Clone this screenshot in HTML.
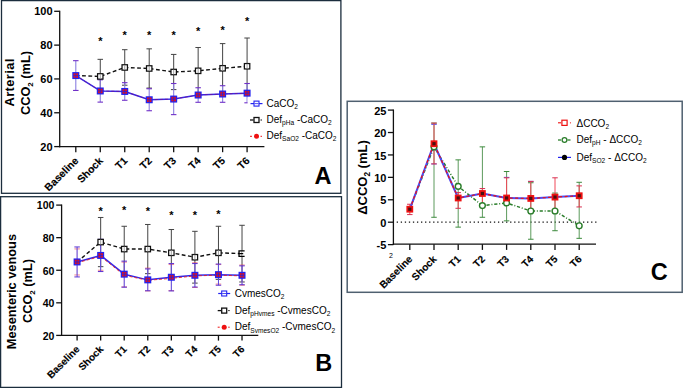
<!DOCTYPE html><html><head><meta charset="utf-8"><style>html,body{margin:0;padding:0;background:#fff;overflow:hidden;}svg{display:block;}text{font-family:"Liberation Sans",sans-serif;fill:#000;}</style></head><body>
<svg width="685" height="388" viewBox="0 0 685 388">
<rect width="685" height="388" fill="#fff"/>
<rect x="1.5" y="0.6" width="339.4" height="192.70000000000002" fill="none" stroke="#1b2d3d" stroke-width="1.3"/>
<line x1="59.70" y1="10.70" x2="59.70" y2="147.20" stroke="#111" stroke-width="1.3" />
<line x1="59.10" y1="146.60" x2="264.40" y2="146.60" stroke="#111" stroke-width="1.3" />
<line x1="54.20" y1="11.30" x2="59.70" y2="11.30" stroke="#111" stroke-width="1.3" />
<text x="52.60" y="15.20" font-size="11" font-weight="bold" text-anchor="end" >100</text>
<line x1="54.20" y1="45.12" x2="59.70" y2="45.12" stroke="#111" stroke-width="1.3" />
<text x="52.60" y="49.02" font-size="11" font-weight="bold" text-anchor="end" >80</text>
<line x1="54.20" y1="78.95" x2="59.70" y2="78.95" stroke="#111" stroke-width="1.3" />
<text x="52.60" y="82.85" font-size="11" font-weight="bold" text-anchor="end" >60</text>
<line x1="54.20" y1="112.77" x2="59.70" y2="112.77" stroke="#111" stroke-width="1.3" />
<text x="52.60" y="116.67" font-size="11" font-weight="bold" text-anchor="end" >40</text>
<line x1="54.20" y1="146.60" x2="59.70" y2="146.60" stroke="#111" stroke-width="1.3" />
<text x="52.60" y="150.50" font-size="11" font-weight="bold" text-anchor="end" >20</text>
<line x1="75.80" y1="146.60" x2="75.80" y2="152.20" stroke="#111" stroke-width="1.3" />
<line x1="100.27" y1="146.60" x2="100.27" y2="152.20" stroke="#111" stroke-width="1.3" />
<line x1="124.74" y1="146.60" x2="124.74" y2="152.20" stroke="#111" stroke-width="1.3" />
<line x1="149.21" y1="146.60" x2="149.21" y2="152.20" stroke="#111" stroke-width="1.3" />
<line x1="173.68" y1="146.60" x2="173.68" y2="152.20" stroke="#111" stroke-width="1.3" />
<line x1="198.15" y1="146.60" x2="198.15" y2="152.20" stroke="#111" stroke-width="1.3" />
<line x1="222.62" y1="146.60" x2="222.62" y2="152.20" stroke="#111" stroke-width="1.3" />
<line x1="247.09" y1="146.60" x2="247.09" y2="152.20" stroke="#111" stroke-width="1.3" />
<text transform="translate(76.50,158.90) rotate(-45)" font-size="10.4" font-weight="bold" text-anchor="end" dy="0.35em" stroke="#000" stroke-width="0.15">Baseline</text>
<text transform="translate(100.97,158.90) rotate(-45)" font-size="10.4" font-weight="bold" text-anchor="end" dy="0.35em" stroke="#000" stroke-width="0.15">Shock</text>
<text transform="translate(125.44,158.90) rotate(-45)" font-size="10.4" font-weight="bold" text-anchor="end" dy="0.35em" stroke="#000" stroke-width="0.15">T1</text>
<text transform="translate(149.91,158.90) rotate(-45)" font-size="10.4" font-weight="bold" text-anchor="end" dy="0.35em" stroke="#000" stroke-width="0.15">T2</text>
<text transform="translate(174.38,158.90) rotate(-45)" font-size="10.4" font-weight="bold" text-anchor="end" dy="0.35em" stroke="#000" stroke-width="0.15">T3</text>
<text transform="translate(198.85,158.90) rotate(-45)" font-size="10.4" font-weight="bold" text-anchor="end" dy="0.35em" stroke="#000" stroke-width="0.15">T4</text>
<text transform="translate(223.32,158.90) rotate(-45)" font-size="10.4" font-weight="bold" text-anchor="end" dy="0.35em" stroke="#000" stroke-width="0.15">T5</text>
<text transform="translate(247.79,158.90) rotate(-45)" font-size="10.4" font-weight="bold" text-anchor="end" dy="0.35em" stroke="#000" stroke-width="0.15">T6</text>
<text transform="translate(14.2,82.6) rotate(-90)" font-size="12.8" font-weight="bold" text-anchor="middle" textLength="47.8">Arterial</text>
<text transform="translate(29.7,83) rotate(-90)" font-size="12.8" font-weight="bold" text-anchor="middle">CCO<tspan font-size="8" dy="3">2</tspan><tspan dy="-3"> (mL)</tspan></text>
<g >
<line x1="100.27" y1="59.33" x2="100.27" y2="93.49" stroke="#444" stroke-width="1.0" />
<line x1="97.52" y1="59.33" x2="103.02" y2="59.33" stroke="#444" stroke-width="1.0" />
<line x1="97.52" y1="93.49" x2="103.02" y2="93.49" stroke="#444" stroke-width="1.0" />
</g>
<g >
<line x1="124.74" y1="49.69" x2="124.74" y2="85.21" stroke="#444" stroke-width="1.0" />
<line x1="121.99" y1="49.69" x2="127.49" y2="49.69" stroke="#444" stroke-width="1.0" />
<line x1="121.99" y1="85.21" x2="127.49" y2="85.21" stroke="#444" stroke-width="1.0" />
</g>
<g >
<line x1="149.21" y1="48.84" x2="149.21" y2="88.08" stroke="#444" stroke-width="1.0" />
<line x1="146.46" y1="48.84" x2="151.96" y2="48.84" stroke="#444" stroke-width="1.0" />
<line x1="146.46" y1="88.08" x2="151.96" y2="88.08" stroke="#444" stroke-width="1.0" />
</g>
<g >
<line x1="173.68" y1="54.42" x2="173.68" y2="89.60" stroke="#444" stroke-width="1.0" />
<line x1="170.93" y1="54.42" x2="176.43" y2="54.42" stroke="#444" stroke-width="1.0" />
<line x1="170.93" y1="89.60" x2="176.43" y2="89.60" stroke="#444" stroke-width="1.0" />
</g>
<g >
<line x1="198.15" y1="47.49" x2="198.15" y2="94.17" stroke="#444" stroke-width="1.0" />
<line x1="195.40" y1="47.49" x2="200.90" y2="47.49" stroke="#444" stroke-width="1.0" />
<line x1="195.40" y1="94.17" x2="200.90" y2="94.17" stroke="#444" stroke-width="1.0" />
</g>
<g >
<line x1="222.62" y1="43.60" x2="222.62" y2="92.99" stroke="#444" stroke-width="1.0" />
<line x1="219.87" y1="43.60" x2="225.37" y2="43.60" stroke="#444" stroke-width="1.0" />
<line x1="219.87" y1="92.99" x2="225.37" y2="92.99" stroke="#444" stroke-width="1.0" />
</g>
<g >
<line x1="247.09" y1="38.02" x2="247.09" y2="94.51" stroke="#444" stroke-width="1.0" />
<line x1="244.34" y1="38.02" x2="249.84" y2="38.02" stroke="#444" stroke-width="1.0" />
<line x1="244.34" y1="94.51" x2="249.84" y2="94.51" stroke="#444" stroke-width="1.0" />
</g>
<g >
<line x1="75.80" y1="60.68" x2="75.80" y2="90.45" stroke="#8a7ee0" stroke-width="1.1" />
<line x1="73.05" y1="60.68" x2="78.55" y2="60.68" stroke="#7030c8" stroke-width="1.1" />
<line x1="73.05" y1="90.45" x2="78.55" y2="90.45" stroke="#7030c8" stroke-width="1.1" />
</g>
<g >
<line x1="100.27" y1="79.79" x2="100.27" y2="102.12" stroke="#8a7ee0" stroke-width="1.1" />
<line x1="97.52" y1="79.79" x2="103.02" y2="79.79" stroke="#7030c8" stroke-width="1.1" />
<line x1="97.52" y1="102.12" x2="103.02" y2="102.12" stroke="#7030c8" stroke-width="1.1" />
</g>
<g >
<line x1="124.74" y1="82.67" x2="124.74" y2="100.26" stroke="#8a7ee0" stroke-width="1.1" />
<line x1="121.99" y1="82.67" x2="127.49" y2="82.67" stroke="#7030c8" stroke-width="1.1" />
<line x1="121.99" y1="100.26" x2="127.49" y2="100.26" stroke="#7030c8" stroke-width="1.1" />
</g>
<g >
<line x1="149.21" y1="88.76" x2="149.21" y2="110.74" stroke="#8a7ee0" stroke-width="1.1" />
<line x1="146.46" y1="88.76" x2="151.96" y2="88.76" stroke="#7030c8" stroke-width="1.1" />
<line x1="146.46" y1="110.74" x2="151.96" y2="110.74" stroke="#7030c8" stroke-width="1.1" />
</g>
<g >
<line x1="173.68" y1="83.51" x2="173.68" y2="114.63" stroke="#8a7ee0" stroke-width="1.1" />
<line x1="170.93" y1="83.51" x2="176.43" y2="83.51" stroke="#7030c8" stroke-width="1.1" />
<line x1="170.93" y1="114.63" x2="176.43" y2="114.63" stroke="#7030c8" stroke-width="1.1" />
</g>
<g >
<line x1="198.15" y1="87.74" x2="198.15" y2="102.29" stroke="#8a7ee0" stroke-width="1.1" />
<line x1="195.40" y1="87.74" x2="200.90" y2="87.74" stroke="#7030c8" stroke-width="1.1" />
<line x1="195.40" y1="102.29" x2="200.90" y2="102.29" stroke="#7030c8" stroke-width="1.1" />
</g>
<g >
<line x1="222.62" y1="85.71" x2="222.62" y2="102.29" stroke="#8a7ee0" stroke-width="1.1" />
<line x1="219.87" y1="85.71" x2="225.37" y2="85.71" stroke="#7030c8" stroke-width="1.1" />
<line x1="219.87" y1="102.29" x2="225.37" y2="102.29" stroke="#7030c8" stroke-width="1.1" />
</g>
<g >
<line x1="247.09" y1="83.51" x2="247.09" y2="102.80" stroke="#8a7ee0" stroke-width="1.1" />
<line x1="244.34" y1="83.51" x2="249.84" y2="83.51" stroke="#7030c8" stroke-width="1.1" />
<line x1="244.34" y1="102.80" x2="249.84" y2="102.80" stroke="#7030c8" stroke-width="1.1" />
</g>
<polyline points="75.80,75.57 100.27,76.41 124.74,67.45 149.21,68.46 173.68,72.01 198.15,70.83 222.62,68.29 247.09,66.26" fill="none" stroke="#111" stroke-width="1.4" stroke-dasharray="3.8 2.5"  stroke-linejoin="round"/>
<polyline points="75.80,75.57 100.27,90.96 124.74,91.46 149.21,99.75 173.68,99.07 198.15,95.02 222.62,94.00 247.09,93.15" fill="none" stroke="#3528e8" stroke-width="1.5"   stroke-linejoin="round"/>
<polyline points="75.80,75.57 100.27,90.96 124.74,91.46 149.21,99.75 173.68,99.07 198.15,95.02 222.62,94.00 247.09,93.15" fill="none" stroke="#8a0a70" stroke-width="0.8" stroke-dasharray="3 2" stroke-opacity="0.7" stroke-linejoin="round"/>
<rect x="97.57" y="73.71" width="5.4" height="5.4" fill="#fff" stroke="#111" stroke-width="1.25"/>
<line x1="100.27" y1="73.91" x2="100.27" y2="78.91" stroke="#999" stroke-width="0.9" />
<rect x="122.04" y="64.75" width="5.4" height="5.4" fill="#fff" stroke="#111" stroke-width="1.25"/>
<line x1="124.74" y1="64.95" x2="124.74" y2="69.95" stroke="#999" stroke-width="0.9" />
<rect x="146.51" y="65.76" width="5.4" height="5.4" fill="#fff" stroke="#111" stroke-width="1.25"/>
<line x1="149.21" y1="65.96" x2="149.21" y2="70.96" stroke="#999" stroke-width="0.9" />
<rect x="170.98" y="69.31" width="5.4" height="5.4" fill="#fff" stroke="#111" stroke-width="1.25"/>
<line x1="173.68" y1="69.51" x2="173.68" y2="74.51" stroke="#999" stroke-width="0.9" />
<rect x="195.45" y="68.13" width="5.4" height="5.4" fill="#fff" stroke="#111" stroke-width="1.25"/>
<line x1="198.15" y1="68.33" x2="198.15" y2="73.33" stroke="#999" stroke-width="0.9" />
<rect x="219.92" y="65.59" width="5.4" height="5.4" fill="#fff" stroke="#111" stroke-width="1.25"/>
<line x1="222.62" y1="65.79" x2="222.62" y2="70.79" stroke="#999" stroke-width="0.9" />
<rect x="244.39" y="63.56" width="5.4" height="5.4" fill="#fff" stroke="#111" stroke-width="1.25"/>
<line x1="247.09" y1="63.76" x2="247.09" y2="68.76" stroke="#999" stroke-width="0.9" />
<rect x="72.30" y="72.07" width="7" height="7" fill="#2323f0"/>
<rect x="73.60" y="73.37" width="4.4" height="4.4" fill="#ee1111"/>
<line x1="75.80" y1="73.37" x2="75.80" y2="77.77" stroke="#3020d0" stroke-width="0.9" />
<line x1="73.60" y1="75.57" x2="78.00" y2="75.57" stroke="#3020d0" stroke-width="0.9" />
<rect x="96.77" y="87.46" width="7" height="7" fill="#2323f0"/>
<rect x="98.07" y="88.76" width="4.4" height="4.4" fill="#ee1111"/>
<line x1="100.27" y1="88.76" x2="100.27" y2="93.16" stroke="#3020d0" stroke-width="0.9" />
<line x1="98.07" y1="90.96" x2="102.47" y2="90.96" stroke="#3020d0" stroke-width="0.9" />
<rect x="121.24" y="87.96" width="7" height="7" fill="#2323f0"/>
<rect x="122.54" y="89.26" width="4.4" height="4.4" fill="#ee1111"/>
<line x1="124.74" y1="89.26" x2="124.74" y2="93.66" stroke="#3020d0" stroke-width="0.9" />
<line x1="122.54" y1="91.46" x2="126.94" y2="91.46" stroke="#3020d0" stroke-width="0.9" />
<rect x="145.71" y="96.25" width="7" height="7" fill="#2323f0"/>
<rect x="147.01" y="97.55" width="4.4" height="4.4" fill="#ee1111"/>
<line x1="149.21" y1="97.55" x2="149.21" y2="101.95" stroke="#3020d0" stroke-width="0.9" />
<line x1="147.01" y1="99.75" x2="151.41" y2="99.75" stroke="#3020d0" stroke-width="0.9" />
<rect x="170.18" y="95.57" width="7" height="7" fill="#2323f0"/>
<rect x="171.48" y="96.87" width="4.4" height="4.4" fill="#ee1111"/>
<line x1="173.68" y1="96.87" x2="173.68" y2="101.27" stroke="#3020d0" stroke-width="0.9" />
<line x1="171.48" y1="99.07" x2="175.88" y2="99.07" stroke="#3020d0" stroke-width="0.9" />
<rect x="194.65" y="91.52" width="7" height="7" fill="#2323f0"/>
<rect x="195.95" y="92.82" width="4.4" height="4.4" fill="#ee1111"/>
<line x1="198.15" y1="92.82" x2="198.15" y2="97.22" stroke="#3020d0" stroke-width="0.9" />
<line x1="195.95" y1="95.02" x2="200.35" y2="95.02" stroke="#3020d0" stroke-width="0.9" />
<rect x="219.12" y="90.50" width="7" height="7" fill="#2323f0"/>
<rect x="220.42" y="91.80" width="4.4" height="4.4" fill="#ee1111"/>
<line x1="222.62" y1="91.80" x2="222.62" y2="96.20" stroke="#3020d0" stroke-width="0.9" />
<line x1="220.42" y1="94.00" x2="224.82" y2="94.00" stroke="#3020d0" stroke-width="0.9" />
<rect x="243.59" y="89.65" width="7" height="7" fill="#2323f0"/>
<rect x="244.89" y="90.95" width="4.4" height="4.4" fill="#ee1111"/>
<line x1="247.09" y1="90.95" x2="247.09" y2="95.35" stroke="#3020d0" stroke-width="0.9" />
<line x1="244.89" y1="93.15" x2="249.29" y2="93.15" stroke="#3020d0" stroke-width="0.9" />
<text x="100.27" y="45.20" font-size="11" font-weight="bold" text-anchor="middle">*</text>
<text x="124.74" y="39.10" font-size="11" font-weight="bold" text-anchor="middle">*</text>
<text x="149.21" y="39.10" font-size="11" font-weight="bold" text-anchor="middle">*</text>
<text x="173.68" y="39.20" font-size="11" font-weight="bold" text-anchor="middle">*</text>
<text x="198.15" y="35.30" font-size="11" font-weight="bold" text-anchor="middle">*</text>
<text x="222.62" y="34.00" font-size="11" font-weight="bold" text-anchor="middle">*</text>
<text x="247.09" y="25.40" font-size="11" font-weight="bold" text-anchor="middle">*</text>
<rect x="247.6" y="97.5" width="91" height="47" fill="#fff"/>
<line x1="250.50" y1="103.60" x2="262.50" y2="103.60" stroke="#2323f0" stroke-width="1.2" />
<rect x="254.00" y="101.10" width="5" height="5" fill="#fff" stroke="#2323f0" stroke-width="1.1"/>
<line x1="254.50" y1="103.60" x2="258.50" y2="103.60" stroke="#2323f0" stroke-width="0.8" />
<text x="266.50" y="106.60" font-size="10" font-weight="normal" fill="#111">CaCO<tspan font-size="6.6" dy="2.2">2</tspan></text>
<line x1="250.00" y1="120.00" x2="253.50" y2="120.00" stroke="#111" stroke-width="1.3" />
<rect x="254.00" y="117.50" width="5" height="5" fill="#fff" stroke="#111" stroke-width="1.3"/>
<line x1="260.50" y1="120.00" x2="262.00" y2="120.00" stroke="#111" stroke-width="1" />
<text x="266.50" y="122.90" font-size="10" font-weight="normal" fill="#111">Def<tspan font-size="6.6" dy="2.2">pHa</tspan><tspan dy="-2.2"> -CaCO</tspan><tspan font-size="6.6" dy="2.2">2</tspan></text>
<line x1="250.00" y1="136.30" x2="252.00" y2="136.30" stroke="#ee1111" stroke-width="1" />
<circle cx="256.50" cy="136.30" r="2.5" fill="#ee1111"/>
<line x1="260.50" y1="136.30" x2="262.00" y2="136.30" stroke="#ee1111" stroke-width="1" />
<text x="266.50" y="139.20" font-size="10" font-weight="normal" fill="#111">Def<tspan font-size="6.6" dy="2.2">SaO2</tspan><tspan dy="-2.2"> -CaCO</tspan><tspan font-size="6.6" dy="2.2">2</tspan></text>
<text x="314.60" y="183.70" font-size="23.5" font-weight="bold" text-anchor="start" >A</text>
<rect x="0.6" y="196.7" width="340.9" height="190.7" fill="none" stroke="#1b2d3d" stroke-width="1.3"/>
<line x1="61.60" y1="204.50" x2="61.60" y2="336.00" stroke="#111" stroke-width="1.3" />
<line x1="61.00" y1="335.40" x2="258.30" y2="335.40" stroke="#111" stroke-width="1.3" />
<line x1="56.20" y1="205.10" x2="61.60" y2="205.10" stroke="#111" stroke-width="1.3" />
<text x="54.40" y="209.40" font-size="10.5" font-weight="bold" text-anchor="end" >100</text>
<line x1="56.20" y1="237.67" x2="61.60" y2="237.67" stroke="#111" stroke-width="1.3" />
<text x="54.40" y="241.97" font-size="10.5" font-weight="bold" text-anchor="end" >80</text>
<line x1="56.20" y1="270.25" x2="61.60" y2="270.25" stroke="#111" stroke-width="1.3" />
<text x="54.40" y="274.55" font-size="10.5" font-weight="bold" text-anchor="end" >60</text>
<line x1="56.20" y1="302.82" x2="61.60" y2="302.82" stroke="#111" stroke-width="1.3" />
<text x="54.40" y="307.12" font-size="10.5" font-weight="bold" text-anchor="end" >40</text>
<line x1="56.20" y1="335.40" x2="61.60" y2="335.40" stroke="#111" stroke-width="1.3" />
<text x="54.40" y="339.70" font-size="10.5" font-weight="bold" text-anchor="end" >20</text>
<line x1="77.10" y1="335.40" x2="77.10" y2="340.60" stroke="#111" stroke-width="1.3" />
<line x1="100.66" y1="335.40" x2="100.66" y2="340.60" stroke="#111" stroke-width="1.3" />
<line x1="124.22" y1="335.40" x2="124.22" y2="340.60" stroke="#111" stroke-width="1.3" />
<line x1="147.78" y1="335.40" x2="147.78" y2="340.60" stroke="#111" stroke-width="1.3" />
<line x1="171.34" y1="335.40" x2="171.34" y2="340.60" stroke="#111" stroke-width="1.3" />
<line x1="194.90" y1="335.40" x2="194.90" y2="340.60" stroke="#111" stroke-width="1.3" />
<line x1="218.46" y1="335.40" x2="218.46" y2="340.60" stroke="#111" stroke-width="1.3" />
<line x1="242.02" y1="335.40" x2="242.02" y2="340.60" stroke="#111" stroke-width="1.3" />
<text transform="translate(77.80,347.40) rotate(-45)" font-size="10.0" font-weight="bold" text-anchor="end" dy="0.35em" stroke="#000" stroke-width="0.15">Baseline</text>
<text transform="translate(101.36,347.40) rotate(-45)" font-size="10.0" font-weight="bold" text-anchor="end" dy="0.35em" stroke="#000" stroke-width="0.15">Shock</text>
<text transform="translate(124.92,347.40) rotate(-45)" font-size="10.0" font-weight="bold" text-anchor="end" dy="0.35em" stroke="#000" stroke-width="0.15">T1</text>
<text transform="translate(148.48,347.40) rotate(-45)" font-size="10.0" font-weight="bold" text-anchor="end" dy="0.35em" stroke="#000" stroke-width="0.15">T2</text>
<text transform="translate(172.04,347.40) rotate(-45)" font-size="10.0" font-weight="bold" text-anchor="end" dy="0.35em" stroke="#000" stroke-width="0.15">T3</text>
<text transform="translate(195.60,347.40) rotate(-45)" font-size="10.0" font-weight="bold" text-anchor="end" dy="0.35em" stroke="#000" stroke-width="0.15">T4</text>
<text transform="translate(219.16,347.40) rotate(-45)" font-size="10.0" font-weight="bold" text-anchor="end" dy="0.35em" stroke="#000" stroke-width="0.15">T5</text>
<text transform="translate(242.72,347.40) rotate(-45)" font-size="10.0" font-weight="bold" text-anchor="end" dy="0.35em" stroke="#000" stroke-width="0.15">T6</text>
<text transform="translate(16.0,291.6) rotate(-90)" font-size="12.8" font-weight="bold" text-anchor="middle">Mesenteric venous</text>
<text transform="translate(32.2,291) rotate(-90)" font-size="12.8" font-weight="bold" text-anchor="middle">CCO<tspan font-size="8" dy="3">2</tspan><tspan dy="-3"> (mL)</tspan></text>
<g >
<line x1="100.66" y1="217.47" x2="100.66" y2="266.66" stroke="#444" stroke-width="1.0" />
<line x1="97.91" y1="217.47" x2="103.41" y2="217.47" stroke="#444" stroke-width="1.0" />
<line x1="97.91" y1="266.66" x2="103.41" y2="266.66" stroke="#444" stroke-width="1.0" />
</g>
<g >
<line x1="124.22" y1="226.27" x2="124.22" y2="271.88" stroke="#444" stroke-width="1.0" />
<line x1="121.47" y1="226.27" x2="126.97" y2="226.27" stroke="#444" stroke-width="1.0" />
<line x1="121.47" y1="271.88" x2="126.97" y2="271.88" stroke="#444" stroke-width="1.0" />
</g>
<g >
<line x1="147.78" y1="224.48" x2="147.78" y2="273.67" stroke="#444" stroke-width="1.0" />
<line x1="145.03" y1="224.48" x2="150.53" y2="224.48" stroke="#444" stroke-width="1.0" />
<line x1="145.03" y1="273.67" x2="150.53" y2="273.67" stroke="#444" stroke-width="1.0" />
</g>
<g >
<line x1="171.34" y1="229.53" x2="171.34" y2="276.11" stroke="#444" stroke-width="1.0" />
<line x1="168.59" y1="229.53" x2="174.09" y2="229.53" stroke="#444" stroke-width="1.0" />
<line x1="168.59" y1="276.11" x2="174.09" y2="276.11" stroke="#444" stroke-width="1.0" />
</g>
<g >
<line x1="194.90" y1="231.32" x2="194.90" y2="283.12" stroke="#444" stroke-width="1.0" />
<line x1="192.15" y1="231.32" x2="197.65" y2="231.32" stroke="#444" stroke-width="1.0" />
<line x1="192.15" y1="283.12" x2="197.65" y2="283.12" stroke="#444" stroke-width="1.0" />
</g>
<g >
<line x1="218.46" y1="226.27" x2="218.46" y2="279.37" stroke="#444" stroke-width="1.0" />
<line x1="215.71" y1="226.27" x2="221.21" y2="226.27" stroke="#444" stroke-width="1.0" />
<line x1="215.71" y1="279.37" x2="221.21" y2="279.37" stroke="#444" stroke-width="1.0" />
</g>
<g >
<line x1="242.02" y1="225.29" x2="242.02" y2="281.98" stroke="#444" stroke-width="1.0" />
<line x1="239.27" y1="225.29" x2="244.77" y2="225.29" stroke="#444" stroke-width="1.0" />
<line x1="239.27" y1="281.98" x2="244.77" y2="281.98" stroke="#444" stroke-width="1.0" />
</g>
<g >
<line x1="77.10" y1="248.91" x2="77.10" y2="274.97" stroke="#f0a0b0" stroke-width="0.6" />
<line x1="74.35" y1="248.91" x2="79.85" y2="248.91" stroke="#e83040" stroke-width="0.6" />
<line x1="74.35" y1="274.97" x2="79.85" y2="274.97" stroke="#e83040" stroke-width="0.6" />
</g>
<g >
<line x1="100.66" y1="240.93" x2="100.66" y2="270.25" stroke="#f0a0b0" stroke-width="0.6" />
<line x1="97.91" y1="240.93" x2="103.41" y2="240.93" stroke="#e83040" stroke-width="0.6" />
<line x1="97.91" y1="270.25" x2="103.41" y2="270.25" stroke="#e83040" stroke-width="0.6" />
</g>
<g >
<line x1="124.22" y1="262.10" x2="124.22" y2="286.86" stroke="#f0a0b0" stroke-width="0.6" />
<line x1="121.47" y1="262.10" x2="126.97" y2="262.10" stroke="#e83040" stroke-width="0.6" />
<line x1="121.47" y1="286.86" x2="126.97" y2="286.86" stroke="#e83040" stroke-width="0.6" />
</g>
<g >
<line x1="147.78" y1="268.13" x2="147.78" y2="290.93" stroke="#f0a0b0" stroke-width="0.6" />
<line x1="145.03" y1="268.13" x2="150.53" y2="268.13" stroke="#e83040" stroke-width="0.6" />
<line x1="145.03" y1="290.93" x2="150.53" y2="290.93" stroke="#e83040" stroke-width="0.6" />
</g>
<g >
<line x1="171.34" y1="264.55" x2="171.34" y2="290.61" stroke="#f0a0b0" stroke-width="0.6" />
<line x1="168.59" y1="264.55" x2="174.09" y2="264.55" stroke="#e83040" stroke-width="0.6" />
<line x1="168.59" y1="290.61" x2="174.09" y2="290.61" stroke="#e83040" stroke-width="0.6" />
</g>
<g >
<line x1="194.90" y1="262.76" x2="194.90" y2="287.51" stroke="#f0a0b0" stroke-width="0.6" />
<line x1="192.15" y1="262.76" x2="197.65" y2="262.76" stroke="#e83040" stroke-width="0.6" />
<line x1="192.15" y1="287.51" x2="197.65" y2="287.51" stroke="#e83040" stroke-width="0.6" />
</g>
<g >
<line x1="218.46" y1="264.55" x2="218.46" y2="284.09" stroke="#f0a0b0" stroke-width="0.6" />
<line x1="215.71" y1="264.55" x2="221.21" y2="264.55" stroke="#e83040" stroke-width="0.6" />
<line x1="215.71" y1="284.09" x2="221.21" y2="284.09" stroke="#e83040" stroke-width="0.6" />
</g>
<g >
<line x1="242.02" y1="265.04" x2="242.02" y2="285.23" stroke="#f0a0b0" stroke-width="0.6" />
<line x1="239.27" y1="265.04" x2="244.77" y2="265.04" stroke="#e83040" stroke-width="0.6" />
<line x1="239.27" y1="285.23" x2="244.77" y2="285.23" stroke="#e83040" stroke-width="0.6" />
</g>
<g >
<line x1="77.10" y1="246.96" x2="77.10" y2="276.93" stroke="#5a4ae0" stroke-width="1.0" />
<line x1="74.35" y1="246.96" x2="79.85" y2="246.96" stroke="#5a30d0" stroke-width="1.0" />
<line x1="74.35" y1="276.93" x2="79.85" y2="276.93" stroke="#5a30d0" stroke-width="1.0" />
</g>
<g >
<line x1="100.66" y1="239.30" x2="100.66" y2="271.55" stroke="#5a4ae0" stroke-width="1.0" />
<line x1="97.91" y1="239.30" x2="103.41" y2="239.30" stroke="#5a30d0" stroke-width="1.0" />
<line x1="97.91" y1="271.55" x2="103.41" y2="271.55" stroke="#5a30d0" stroke-width="1.0" />
</g>
<g >
<line x1="124.22" y1="261.13" x2="124.22" y2="287.19" stroke="#5a4ae0" stroke-width="1.0" />
<line x1="121.47" y1="261.13" x2="126.97" y2="261.13" stroke="#5a30d0" stroke-width="1.0" />
<line x1="121.47" y1="287.19" x2="126.97" y2="287.19" stroke="#5a30d0" stroke-width="1.0" />
</g>
<g >
<line x1="147.78" y1="268.94" x2="147.78" y2="290.77" stroke="#5a4ae0" stroke-width="1.0" />
<line x1="145.03" y1="268.94" x2="150.53" y2="268.94" stroke="#5a30d0" stroke-width="1.0" />
<line x1="145.03" y1="290.77" x2="150.53" y2="290.77" stroke="#5a30d0" stroke-width="1.0" />
</g>
<g >
<line x1="171.34" y1="263.57" x2="171.34" y2="290.93" stroke="#5a4ae0" stroke-width="1.0" />
<line x1="168.59" y1="263.57" x2="174.09" y2="263.57" stroke="#5a30d0" stroke-width="1.0" />
<line x1="168.59" y1="290.93" x2="174.09" y2="290.93" stroke="#5a30d0" stroke-width="1.0" />
</g>
<g >
<line x1="194.90" y1="263.57" x2="194.90" y2="287.02" stroke="#5a4ae0" stroke-width="1.0" />
<line x1="192.15" y1="263.57" x2="197.65" y2="263.57" stroke="#5a30d0" stroke-width="1.0" />
<line x1="192.15" y1="287.02" x2="197.65" y2="287.02" stroke="#5a30d0" stroke-width="1.0" />
</g>
<g >
<line x1="218.46" y1="264.06" x2="218.46" y2="285.23" stroke="#5a4ae0" stroke-width="1.0" />
<line x1="215.71" y1="264.06" x2="221.21" y2="264.06" stroke="#5a30d0" stroke-width="1.0" />
<line x1="215.71" y1="285.23" x2="221.21" y2="285.23" stroke="#5a30d0" stroke-width="1.0" />
</g>
<g >
<line x1="242.02" y1="265.85" x2="242.02" y2="284.74" stroke="#5a4ae0" stroke-width="1.0" />
<line x1="239.27" y1="265.85" x2="244.77" y2="265.85" stroke="#5a30d0" stroke-width="1.0" />
<line x1="239.27" y1="284.74" x2="244.77" y2="284.74" stroke="#5a30d0" stroke-width="1.0" />
</g>
<polyline points="77.10,261.94 100.66,242.07 124.22,249.07 147.78,249.07 171.34,252.82 194.90,257.22 218.46,252.82 242.02,253.63" fill="none" stroke="#111" stroke-width="1.4" stroke-dasharray="3.8 2.5"  stroke-linejoin="round"/>
<polyline points="77.10,261.94 100.66,255.43 124.22,274.16 147.78,279.86 171.34,277.25 194.90,275.30 218.46,274.65 242.02,275.30" fill="none" stroke="#3528e8" stroke-width="1.5"   stroke-linejoin="round"/>
<polyline points="77.10,262.74 100.66,256.39 124.22,275.28 147.78,280.33 171.34,278.38 194.90,275.93 218.46,275.12 242.02,275.93" fill="none" stroke="#ee1111" stroke-width="1.0" stroke-dasharray="3 2" stroke-opacity="0.8" stroke-linejoin="round"/>
<rect x="97.96" y="239.37" width="5.4" height="5.4" fill="#fff" stroke="#111" stroke-width="1.25"/>
<line x1="100.66" y1="239.57" x2="100.66" y2="244.57" stroke="#999" stroke-width="0.9" />
<rect x="121.52" y="246.37" width="5.4" height="5.4" fill="#fff" stroke="#111" stroke-width="1.25"/>
<line x1="124.22" y1="246.57" x2="124.22" y2="251.57" stroke="#999" stroke-width="0.9" />
<rect x="145.08" y="246.37" width="5.4" height="5.4" fill="#fff" stroke="#111" stroke-width="1.25"/>
<line x1="147.78" y1="246.57" x2="147.78" y2="251.57" stroke="#999" stroke-width="0.9" />
<rect x="168.64" y="250.12" width="5.4" height="5.4" fill="#fff" stroke="#111" stroke-width="1.25"/>
<line x1="171.34" y1="250.32" x2="171.34" y2="255.32" stroke="#999" stroke-width="0.9" />
<rect x="192.20" y="254.52" width="5.4" height="5.4" fill="#fff" stroke="#111" stroke-width="1.25"/>
<line x1="194.90" y1="254.72" x2="194.90" y2="259.72" stroke="#999" stroke-width="0.9" />
<rect x="215.76" y="250.12" width="5.4" height="5.4" fill="#fff" stroke="#111" stroke-width="1.25"/>
<line x1="218.46" y1="250.32" x2="218.46" y2="255.32" stroke="#999" stroke-width="0.9" />
<rect x="239.02" y="250.93" width="5.4" height="5.4" fill="#fff"/>
<line x1="241.72" y1="251.13" x2="241.72" y2="256.13" stroke="#999" stroke-width="0.9" />
<path d="M244.62,250.93 H239.02 V256.33 H244.62 M239.02,253.63 H243.22" fill="none" stroke="#000" stroke-width="1.3"/>
<rect x="73.60" y="258.44" width="7" height="7" fill="#2323f0"/>
<rect x="74.90" y="259.74" width="4.4" height="4.4" fill="#ee1111"/>
<line x1="77.10" y1="259.74" x2="77.10" y2="264.14" stroke="#3020d0" stroke-width="0.9" />
<line x1="74.90" y1="261.94" x2="79.30" y2="261.94" stroke="#3020d0" stroke-width="0.9" />
<rect x="97.16" y="251.93" width="7" height="7" fill="#2323f0"/>
<rect x="98.46" y="253.23" width="4.4" height="4.4" fill="#ee1111"/>
<line x1="100.66" y1="253.23" x2="100.66" y2="257.63" stroke="#3020d0" stroke-width="0.9" />
<line x1="98.46" y1="255.43" x2="102.86" y2="255.43" stroke="#3020d0" stroke-width="0.9" />
<rect x="120.72" y="270.66" width="7" height="7" fill="#2323f0"/>
<rect x="122.02" y="271.96" width="4.4" height="4.4" fill="#ee1111"/>
<line x1="124.22" y1="271.96" x2="124.22" y2="276.36" stroke="#3020d0" stroke-width="0.9" />
<line x1="122.02" y1="274.16" x2="126.42" y2="274.16" stroke="#3020d0" stroke-width="0.9" />
<rect x="144.28" y="276.36" width="7" height="7" fill="#2323f0"/>
<rect x="145.58" y="277.66" width="4.4" height="4.4" fill="#ee1111"/>
<line x1="147.78" y1="277.66" x2="147.78" y2="282.06" stroke="#3020d0" stroke-width="0.9" />
<line x1="145.58" y1="279.86" x2="149.98" y2="279.86" stroke="#3020d0" stroke-width="0.9" />
<rect x="167.84" y="273.75" width="7" height="7" fill="#2323f0"/>
<rect x="169.14" y="275.05" width="4.4" height="4.4" fill="#ee1111"/>
<line x1="171.34" y1="275.05" x2="171.34" y2="279.45" stroke="#3020d0" stroke-width="0.9" />
<line x1="169.14" y1="277.25" x2="173.54" y2="277.25" stroke="#3020d0" stroke-width="0.9" />
<rect x="191.40" y="271.80" width="7" height="7" fill="#2323f0"/>
<rect x="192.70" y="273.10" width="4.4" height="4.4" fill="#ee1111"/>
<line x1="194.90" y1="273.10" x2="194.90" y2="277.50" stroke="#3020d0" stroke-width="0.9" />
<line x1="192.70" y1="275.30" x2="197.10" y2="275.30" stroke="#3020d0" stroke-width="0.9" />
<rect x="214.96" y="271.15" width="7" height="7" fill="#2323f0"/>
<rect x="216.26" y="272.45" width="4.4" height="4.4" fill="#ee1111"/>
<line x1="218.46" y1="272.45" x2="218.46" y2="276.85" stroke="#3020d0" stroke-width="0.9" />
<line x1="216.26" y1="274.65" x2="220.66" y2="274.65" stroke="#3020d0" stroke-width="0.9" />
<rect x="238.52" y="271.80" width="7" height="7" fill="#2323f0"/>
<rect x="239.82" y="273.10" width="4.4" height="4.4" fill="#ee1111"/>
<line x1="242.02" y1="273.10" x2="242.02" y2="277.50" stroke="#3020d0" stroke-width="0.9" />
<line x1="239.82" y1="275.30" x2="244.22" y2="275.30" stroke="#3020d0" stroke-width="0.9" />
<text x="100.66" y="214.80" font-size="11" font-weight="bold" text-anchor="middle">*</text>
<text x="124.22" y="214.20" font-size="11" font-weight="bold" text-anchor="middle">*</text>
<text x="147.78" y="214.80" font-size="11" font-weight="bold" text-anchor="middle">*</text>
<text x="171.34" y="218.90" font-size="11" font-weight="bold" text-anchor="middle">*</text>
<text x="194.90" y="219.30" font-size="11" font-weight="bold" text-anchor="middle">*</text>
<text x="218.46" y="217.90" font-size="11" font-weight="bold" text-anchor="middle">*</text>
<line x1="218.20" y1="293.50" x2="230.20" y2="293.50" stroke="#2323f0" stroke-width="1.2" />
<rect x="221.70" y="291.00" width="5" height="5" fill="#fff" stroke="#2323f0" stroke-width="1.1"/>
<line x1="222.20" y1="293.50" x2="226.20" y2="293.50" stroke="#2323f0" stroke-width="0.8" />
<text x="234.70" y="296.90" font-size="10" font-weight="normal" fill="#111">CvmesCO<tspan font-size="6.6" dy="2.2">2</tspan></text>
<line x1="217.70" y1="310.60" x2="221.20" y2="310.60" stroke="#111" stroke-width="1.3" />
<rect x="221.70" y="308.10" width="5" height="5" fill="#fff" stroke="#111" stroke-width="1.3"/>
<line x1="228.20" y1="310.60" x2="229.70" y2="310.60" stroke="#111" stroke-width="1" />
<text x="234.70" y="313.70" font-size="10" font-weight="normal" fill="#111">Def<tspan font-size="6.6" dy="2.2">pHvmes</tspan><tspan dy="-2.2"> -CvmesCO</tspan><tspan font-size="6.6" dy="2.2">2</tspan></text>
<line x1="217.70" y1="327.20" x2="219.70" y2="327.20" stroke="#ee1111" stroke-width="1" />
<circle cx="224.20" cy="327.20" r="2.5" fill="#ee1111"/>
<line x1="228.20" y1="327.20" x2="229.70" y2="327.20" stroke="#ee1111" stroke-width="1" />
<text x="234.70" y="330.40" font-size="10" font-weight="normal" fill="#111">Def<tspan font-size="6.6" dy="2.2">SvmesO2</tspan><tspan dy="-2.2"> -CvmesCO</tspan><tspan font-size="6.6" dy="2.2">2</tspan></text>
<text x="315.20" y="370.70" font-size="23.5" font-weight="bold" text-anchor="start" >B</text>
<rect x="347.2" y="101.3" width="335.00000000000006" height="191.0" fill="none" stroke="#4f6070" stroke-width="1.5"/>
<line x1="393.40" y1="109.50" x2="393.40" y2="244.80" stroke="#111" stroke-width="1.3" />
<line x1="392.80" y1="244.20" x2="596.00" y2="244.20" stroke="#111" stroke-width="1.3" />
<line x1="387.90" y1="110.10" x2="393.40" y2="110.10" stroke="#111" stroke-width="1.3" />
<text x="386.40" y="114.70" font-size="11" font-weight="bold" text-anchor="end" >25</text>
<line x1="387.90" y1="132.52" x2="393.40" y2="132.52" stroke="#111" stroke-width="1.3" />
<text x="386.40" y="137.12" font-size="11" font-weight="bold" text-anchor="end" >20</text>
<line x1="387.90" y1="154.94" x2="393.40" y2="154.94" stroke="#111" stroke-width="1.3" />
<text x="386.40" y="159.54" font-size="11" font-weight="bold" text-anchor="end" >15</text>
<line x1="387.90" y1="177.36" x2="393.40" y2="177.36" stroke="#111" stroke-width="1.3" />
<text x="386.40" y="181.96" font-size="11" font-weight="bold" text-anchor="end" >10</text>
<line x1="387.90" y1="199.78" x2="393.40" y2="199.78" stroke="#111" stroke-width="1.3" />
<text x="386.40" y="204.38" font-size="11" font-weight="bold" text-anchor="end" >5</text>
<line x1="387.90" y1="222.20" x2="393.40" y2="222.20" stroke="#111" stroke-width="1.3" />
<text x="386.40" y="226.80" font-size="11" font-weight="bold" text-anchor="end" >0</text>
<line x1="387.90" y1="244.62" x2="393.40" y2="244.62" stroke="#111" stroke-width="1.3" />
<text x="386.40" y="249.22" font-size="11" font-weight="bold" text-anchor="end" >-5</text>
<line x1="409.80" y1="244.20" x2="409.80" y2="249.90" stroke="#111" stroke-width="1.3" />
<line x1="434.00" y1="244.20" x2="434.00" y2="249.90" stroke="#111" stroke-width="1.3" />
<line x1="458.20" y1="244.20" x2="458.20" y2="249.90" stroke="#111" stroke-width="1.3" />
<line x1="482.40" y1="244.20" x2="482.40" y2="249.90" stroke="#111" stroke-width="1.3" />
<line x1="506.60" y1="244.20" x2="506.60" y2="249.90" stroke="#111" stroke-width="1.3" />
<line x1="530.80" y1="244.20" x2="530.80" y2="249.90" stroke="#111" stroke-width="1.3" />
<line x1="555.00" y1="244.20" x2="555.00" y2="249.90" stroke="#111" stroke-width="1.3" />
<line x1="579.20" y1="244.20" x2="579.20" y2="249.90" stroke="#111" stroke-width="1.3" />
<text transform="translate(410.50,257.20) rotate(-45)" font-size="10.1" font-weight="bold" text-anchor="end" dy="0.35em" stroke="#000" stroke-width="0.15">Baseline</text>
<text transform="translate(434.70,257.20) rotate(-45)" font-size="10.1" font-weight="bold" text-anchor="end" dy="0.35em" stroke="#000" stroke-width="0.15">Shock</text>
<text transform="translate(458.90,257.20) rotate(-45)" font-size="10.1" font-weight="bold" text-anchor="end" dy="0.35em" stroke="#000" stroke-width="0.15">T1</text>
<text transform="translate(483.10,257.20) rotate(-45)" font-size="10.1" font-weight="bold" text-anchor="end" dy="0.35em" stroke="#000" stroke-width="0.15">T2</text>
<text transform="translate(507.30,257.20) rotate(-45)" font-size="10.1" font-weight="bold" text-anchor="end" dy="0.35em" stroke="#000" stroke-width="0.15">T3</text>
<text transform="translate(531.50,257.20) rotate(-45)" font-size="10.1" font-weight="bold" text-anchor="end" dy="0.35em" stroke="#000" stroke-width="0.15">T4</text>
<text transform="translate(555.70,257.20) rotate(-45)" font-size="10.1" font-weight="bold" text-anchor="end" dy="0.35em" stroke="#000" stroke-width="0.15">T5</text>
<text transform="translate(579.90,257.20) rotate(-45)" font-size="10.1" font-weight="bold" text-anchor="end" dy="0.35em" stroke="#000" stroke-width="0.15">T6</text>
<text x="390.9" y="258.2" font-size="7" text-anchor="middle">2</text>
<line x1="396.7" y1="222.2" x2="597" y2="222.2" stroke="#111" stroke-width="1.3" stroke-dasharray="1.3 2.75"/>
<text transform="translate(367.4,177.5) rotate(-90)" font-size="13" font-weight="bold" text-anchor="middle">ΔCCO<tspan font-size="8.2" dy="3">2</tspan><tspan dy="-3"> (mL)</tspan></text>
<g >
<line x1="434.00" y1="123.10" x2="434.00" y2="217.27" stroke="#5c9a5c" stroke-width="1.0" />
<line x1="431.25" y1="123.10" x2="436.75" y2="123.10" stroke="#3c8a3c" stroke-width="1.0" />
<line x1="431.25" y1="217.27" x2="436.75" y2="217.27" stroke="#3c8a3c" stroke-width="1.0" />
</g>
<g >
<line x1="458.20" y1="159.87" x2="458.20" y2="227.13" stroke="#5c9a5c" stroke-width="1.0" />
<line x1="455.45" y1="159.87" x2="460.95" y2="159.87" stroke="#3c8a3c" stroke-width="1.0" />
<line x1="455.45" y1="227.13" x2="460.95" y2="227.13" stroke="#3c8a3c" stroke-width="1.0" />
</g>
<g >
<line x1="482.40" y1="146.87" x2="482.40" y2="217.27" stroke="#5c9a5c" stroke-width="1.0" />
<line x1="479.65" y1="146.87" x2="485.15" y2="146.87" stroke="#3c8a3c" stroke-width="1.0" />
<line x1="479.65" y1="217.27" x2="485.15" y2="217.27" stroke="#3c8a3c" stroke-width="1.0" />
</g>
<g >
<line x1="506.60" y1="171.53" x2="506.60" y2="220.85" stroke="#5c9a5c" stroke-width="1.0" />
<line x1="503.85" y1="171.53" x2="509.35" y2="171.53" stroke="#3c8a3c" stroke-width="1.0" />
<line x1="503.85" y1="220.85" x2="509.35" y2="220.85" stroke="#3c8a3c" stroke-width="1.0" />
</g>
<g >
<line x1="530.80" y1="182.74" x2="530.80" y2="239.24" stroke="#5c9a5c" stroke-width="1.0" />
<line x1="528.05" y1="182.74" x2="533.55" y2="182.74" stroke="#3c8a3c" stroke-width="1.0" />
<line x1="528.05" y1="239.24" x2="533.55" y2="239.24" stroke="#3c8a3c" stroke-width="1.0" />
</g>
<g >
<line x1="555.00" y1="193.05" x2="555.00" y2="230.72" stroke="#5c9a5c" stroke-width="1.0" />
<line x1="552.25" y1="193.05" x2="557.75" y2="193.05" stroke="#3c8a3c" stroke-width="1.0" />
<line x1="552.25" y1="230.72" x2="557.75" y2="230.72" stroke="#3c8a3c" stroke-width="1.0" />
</g>
<g >
<line x1="579.20" y1="182.29" x2="579.20" y2="238.34" stroke="#5c9a5c" stroke-width="1.0" />
<line x1="576.45" y1="182.29" x2="581.95" y2="182.29" stroke="#3c8a3c" stroke-width="1.0" />
<line x1="576.45" y1="238.34" x2="581.95" y2="238.34" stroke="#3c8a3c" stroke-width="1.0" />
</g>
<line x1="431.25" y1="124.45" x2="436.75" y2="124.45" stroke="#6060f0" stroke-width="1.0" />
<line x1="503.85" y1="177.36" x2="509.35" y2="177.36" stroke="#6060f0" stroke-width="1.0" />
<line x1="528.05" y1="181.40" x2="533.55" y2="181.40" stroke="#6060f0" stroke-width="1.0" />
<line x1="431.25" y1="163.91" x2="436.75" y2="163.91" stroke="#6060f0" stroke-width="1.0" />
<g >
<line x1="409.80" y1="204.26" x2="409.80" y2="214.58" stroke="#f04858" stroke-width="1.0" />
<line x1="407.05" y1="204.26" x2="412.55" y2="204.26" stroke="#d83050" stroke-width="1.0" />
<line x1="407.05" y1="214.58" x2="412.55" y2="214.58" stroke="#d83050" stroke-width="1.0" />
</g>
<g >
<line x1="434.00" y1="123.10" x2="434.00" y2="163.91" stroke="#f04858" stroke-width="1.0" />
<line x1="431.25" y1="123.10" x2="436.75" y2="123.10" stroke="#d83050" stroke-width="1.0" />
<line x1="431.25" y1="163.91" x2="436.75" y2="163.91" stroke="#d83050" stroke-width="1.0" />
</g>
<g >
<line x1="458.20" y1="192.61" x2="458.20" y2="208.30" stroke="#f04858" stroke-width="1.0" />
<line x1="455.45" y1="192.61" x2="460.95" y2="192.61" stroke="#d83050" stroke-width="1.0" />
<line x1="455.45" y1="208.30" x2="460.95" y2="208.30" stroke="#d83050" stroke-width="1.0" />
</g>
<g >
<line x1="482.40" y1="188.57" x2="482.40" y2="205.61" stroke="#f04858" stroke-width="1.0" />
<line x1="479.65" y1="188.57" x2="485.15" y2="188.57" stroke="#d83050" stroke-width="1.0" />
<line x1="479.65" y1="205.61" x2="485.15" y2="205.61" stroke="#d83050" stroke-width="1.0" />
</g>
<g >
<line x1="506.60" y1="177.81" x2="506.60" y2="202.92" stroke="#f04858" stroke-width="1.0" />
<line x1="503.85" y1="177.81" x2="509.35" y2="177.81" stroke="#d83050" stroke-width="1.0" />
<line x1="503.85" y1="202.92" x2="509.35" y2="202.92" stroke="#d83050" stroke-width="1.0" />
</g>
<g >
<line x1="530.80" y1="181.40" x2="530.80" y2="209.20" stroke="#f04858" stroke-width="1.0" />
<line x1="528.05" y1="181.40" x2="533.55" y2="181.40" stroke="#d83050" stroke-width="1.0" />
<line x1="528.05" y1="209.20" x2="533.55" y2="209.20" stroke="#d83050" stroke-width="1.0" />
</g>
<g >
<line x1="555.00" y1="177.81" x2="555.00" y2="210.09" stroke="#f04858" stroke-width="1.0" />
<line x1="552.25" y1="177.81" x2="557.75" y2="177.81" stroke="#d83050" stroke-width="1.0" />
<line x1="552.25" y1="210.09" x2="557.75" y2="210.09" stroke="#d83050" stroke-width="1.0" />
</g>
<g >
<line x1="579.20" y1="185.88" x2="579.20" y2="206.95" stroke="#f04858" stroke-width="1.0" />
<line x1="576.45" y1="185.88" x2="581.95" y2="185.88" stroke="#d83050" stroke-width="1.0" />
<line x1="576.45" y1="206.95" x2="581.95" y2="206.95" stroke="#d83050" stroke-width="1.0" />
</g>
<polyline points="409.80,209.20 434.00,146.87 458.20,186.33 482.40,205.61 506.60,202.92 530.80,210.99 555.00,210.99 579.20,225.79" fill="none" stroke="#2a7d2a" stroke-width="1.5" stroke-dasharray="3.2 1.8 1 1.8"  stroke-linejoin="round"/>
<polyline points="409.80,209.20 434.00,143.73 458.20,197.99 482.40,193.50 506.60,197.99 530.80,198.43 555.00,197.09 579.20,195.74" fill="none" stroke="#4a4af5" stroke-width="2.0"   stroke-linejoin="round"/>
<polyline points="409.80,209.20 434.00,143.73 458.20,197.99 482.40,193.50 506.60,197.99 530.80,198.43 555.00,197.09 579.20,195.74" fill="none" stroke="#ee1111" stroke-width="1.2" stroke-dasharray="3 2.5"  stroke-linejoin="round"/>
<circle cx="434.00" cy="146.87" r="2.9" fill="#fff" stroke="#2a7d2a" stroke-width="1.4"/>
<circle cx="458.20" cy="186.33" r="2.9" fill="#fff" stroke="#2a7d2a" stroke-width="1.4"/>
<circle cx="482.40" cy="205.61" r="2.9" fill="#fff" stroke="#2a7d2a" stroke-width="1.4"/>
<circle cx="506.60" cy="202.92" r="2.9" fill="#fff" stroke="#2a7d2a" stroke-width="1.4"/>
<circle cx="530.80" cy="210.99" r="2.9" fill="#fff" stroke="#2a7d2a" stroke-width="1.4"/>
<circle cx="555.00" cy="210.99" r="2.9" fill="#fff" stroke="#2a7d2a" stroke-width="1.4"/>
<circle cx="579.20" cy="225.79" r="2.9" fill="#fff" stroke="#2a7d2a" stroke-width="1.4"/>
<rect x="406.40" y="205.80" width="6.8" height="6.8" fill="#ee1111"/>
<rect x="408.20" y="207.60" width="3.2" height="3.2" fill="#4a1010"/>
<rect x="430.60" y="140.33" width="6.8" height="6.8" fill="#ee1111"/>
<rect x="432.40" y="142.13" width="3.2" height="3.2" fill="#4a1010"/>
<rect x="454.80" y="194.59" width="6.8" height="6.8" fill="#ee1111"/>
<rect x="456.60" y="196.39" width="3.2" height="3.2" fill="#4a1010"/>
<rect x="479.00" y="190.10" width="6.8" height="6.8" fill="#ee1111"/>
<rect x="480.80" y="191.90" width="3.2" height="3.2" fill="#4a1010"/>
<rect x="503.20" y="194.59" width="6.8" height="6.8" fill="#ee1111"/>
<rect x="505.00" y="196.39" width="3.2" height="3.2" fill="#4a1010"/>
<rect x="527.40" y="195.03" width="6.8" height="6.8" fill="#ee1111"/>
<rect x="529.20" y="196.83" width="3.2" height="3.2" fill="#4a1010"/>
<rect x="551.60" y="193.69" width="6.8" height="6.8" fill="#ee1111"/>
<rect x="553.40" y="195.49" width="3.2" height="3.2" fill="#4a1010"/>
<rect x="575.80" y="192.34" width="6.8" height="6.8" fill="#ee1111"/>
<rect x="577.60" y="194.14" width="3.2" height="3.2" fill="#4a1010"/>
<line x1="558.00" y1="122.80" x2="561.00" y2="122.80" stroke="#ee1111" stroke-width="1.1" />
<rect x="561.90" y="120.20" width="5.2" height="5.2" fill="#fff" stroke="#ee1111" stroke-width="1.2"/>
<circle cx="570.50" cy="122.80" r="0.6" fill="#ee1111"/>
<text x="576.50" y="127.00" font-size="10" font-weight="normal" fill="#111">ΔCCO<tspan font-size="6.6" dy="2.2">2</tspan></text>
<line x1="558.00" y1="140.00" x2="561.00" y2="140.00" stroke="#2a7d2a" stroke-width="1.3" />
<circle cx="564.50" cy="140.00" r="2.4" fill="#fff" stroke="#2a7d2a" stroke-width="1.3"/>
<line x1="567.50" y1="140.00" x2="570.50" y2="140.00" stroke="#2a7d2a" stroke-width="1.3" />
<text x="576.50" y="143.20" font-size="10" font-weight="normal" fill="#111">Def<tspan font-size="6.6" dy="2.2">pH</tspan><tspan dy="-2.2"> - ΔCCO</tspan><tspan font-size="6.6" dy="2.2">2</tspan></text>
<line x1="558.00" y1="157.40" x2="571.00" y2="157.40" stroke="#2323f0" stroke-width="1.2" />
<circle cx="564.50" cy="157.40" r="2.6" fill="#000"/>
<text x="576.50" y="160.70" font-size="10" font-weight="normal" fill="#111">Def<tspan font-size="6.6" dy="2.2">SO2</tspan><tspan dy="-2.2"> - ΔCCO</tspan><tspan font-size="6.6" dy="2.2">2</tspan></text>
<text x="650.80" y="280.20" font-size="23.5" font-weight="bold" text-anchor="start" >C</text>
</svg></body></html>
